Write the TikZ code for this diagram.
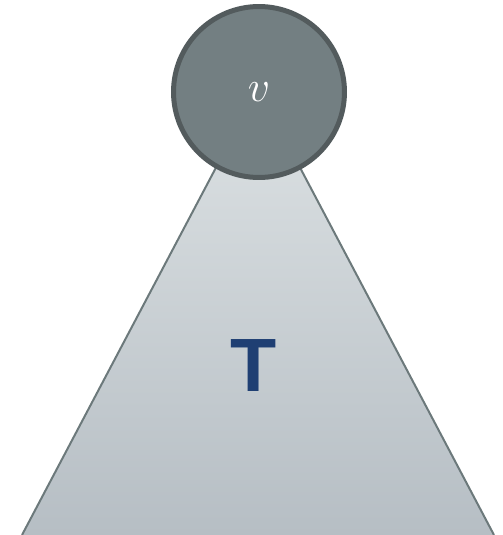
\documentclass[tikz,border=0pt]{standalone}
\usepackage{fontspec}
\newfontfamily\labelfont{Liberation Sans}
\definecolor{treetop}{HTML}{DDE2E4}
\definecolor{treebottom}{HTML}{B6BEC4}
\definecolor{treeedge}{HTML}{6C797B}
\definecolor{rootfill}{HTML}{737F82}
\definecolor{rootedge}{HTML}{535B5D}
\definecolor{labelblue}{HTML}{1F3F73}
\begin{document}
\begin{tikzpicture}[
          x=0.02cm,
          y=-0.02cm,
          root node/.style={circle, fill=rootfill, draw=rootedge, line width=0.1cm, minimum size=3.42cm, inner sep=0pt, text=white},
          tree side/.style={draw=treeedge, line width=0.04cm},
      ]

      % Rahmen des Bildes
      \useasboundingbox (0,0) rectangle (503,535);

      % Eckpunkte des Teilbaums
      \coordinate (apex) at (258,88);
      \coordinate (base left) at (22,535);
      \coordinate (base right) at (494,535);

      % Teilbaum mit Farbverlauf
      \shade[top color=treetop, bottom color=treebottom] (apex) -- (base left) -- (base right) -- cycle;
      \draw[tree side] (base left) -- (apex) -- (base right);

      % Wurzel
      \node[root node] (root) at (259,92) {\fontsize{37}{37}\selectfont$v$};

      % Beschriftung
      \node[text=labelblue, font=\labelfont\bfseries\fontsize{43}{43}\selectfont] (label) at (254,366) {T};

      \end{tikzpicture}
\end{document}
